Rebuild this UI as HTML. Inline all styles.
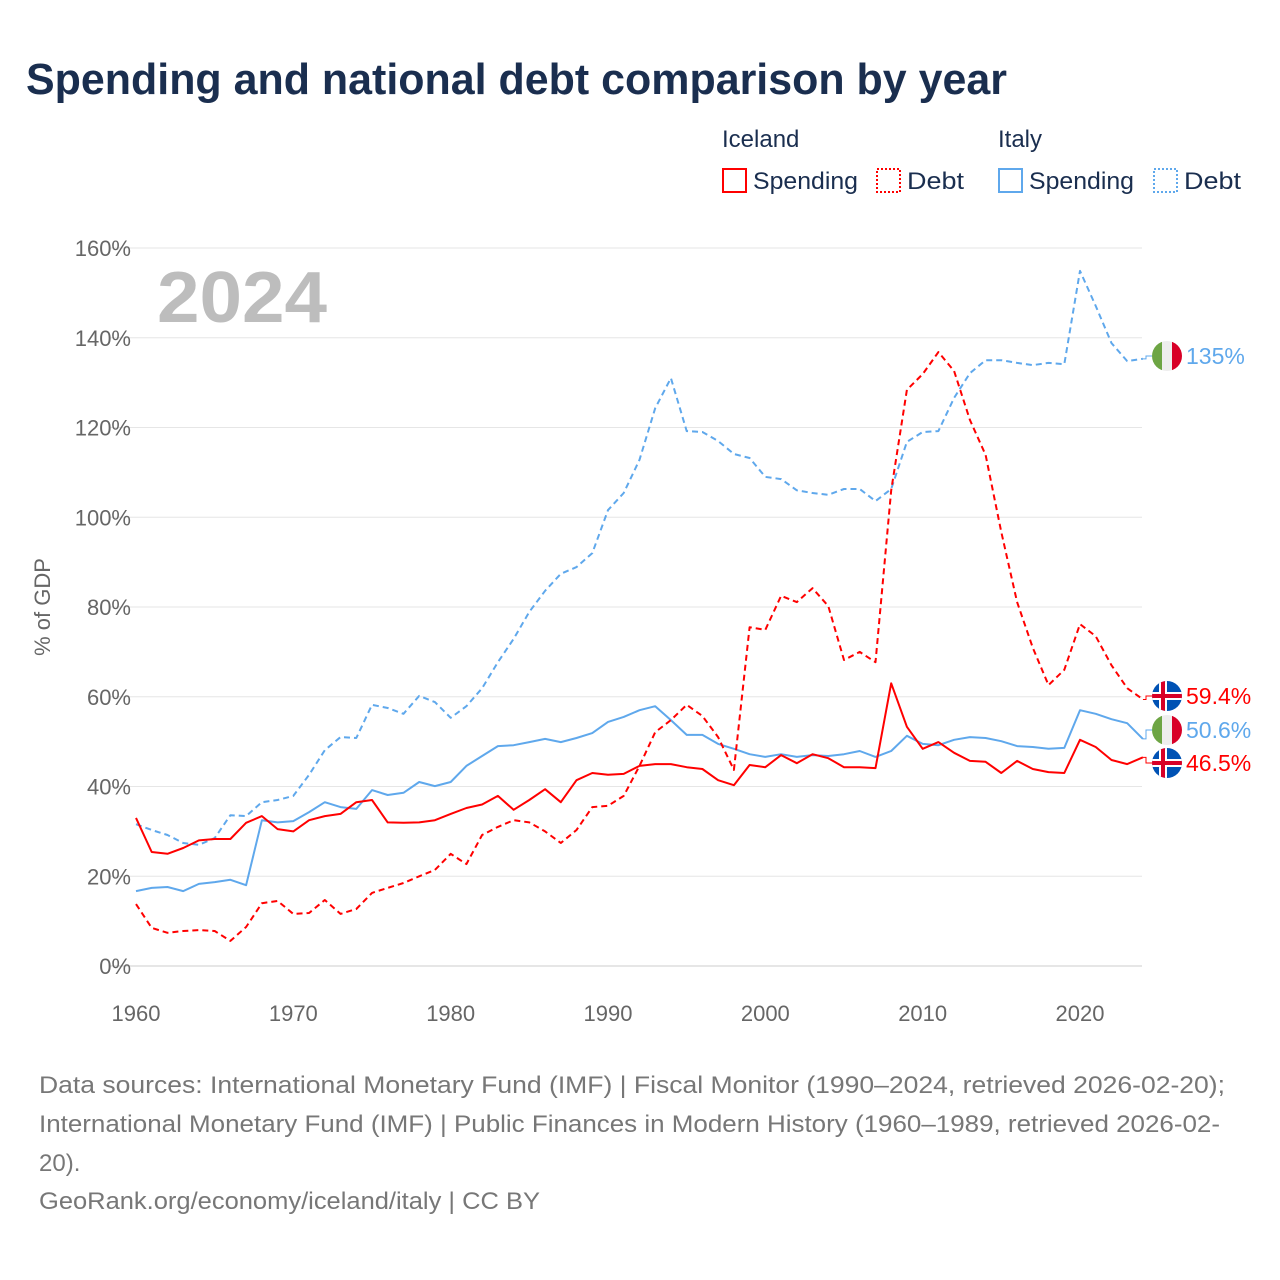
<!DOCTYPE html>
<html><head><meta charset="utf-8"><style>
body{margin:0;background:#fff;font-family:"Liberation Sans",sans-serif;}
#wrap{position:relative;width:1280px;height:1280px;overflow:hidden;}
</style></head><body>
<div id="wrap">
<svg id="chart" width="1280" height="1280" xmlns="http://www.w3.org/2000/svg">
<text x="26" y="94" font-size="44" font-weight="bold" fill="#1a2e4f" textLength="981" lengthAdjust="spacingAndGlyphs">Spending and national debt comparison by year</text>
<g font-size="24" fill="#1a2e4f">
<text x="722" y="147">Iceland</text>
<text x="998" y="147">Italy</text>
<g><rect x="723" y="169" width="23" height="23" fill="none" stroke="#ff0000" stroke-width="2"/><text x="753" y="189" textLength="105" lengthAdjust="spacingAndGlyphs">Spending</text></g>
<g><rect x="877" y="169" width="23" height="23" fill="none" stroke="#ff0000" stroke-width="2" stroke-dasharray="2,2"/><text x="907" y="189" textLength="57" lengthAdjust="spacingAndGlyphs">Debt</text></g>
<g><rect x="999" y="169" width="23" height="23" fill="none" stroke="#5fa8ec" stroke-width="2"/><text x="1029" y="189" textLength="105" lengthAdjust="spacingAndGlyphs">Spending</text></g>
<g><rect x="1154" y="169" width="23" height="23" fill="none" stroke="#5fa8ec" stroke-width="2" stroke-dasharray="2,2"/><text x="1184" y="189" textLength="57" lengthAdjust="spacingAndGlyphs">Debt</text></g>
</g>
<g id="grid"></g>
<g id="yticks"></g>
<g id="xticks"></g>
<text x="157" y="322" font-size="72" font-weight="bold" fill="#bdbdbd" textLength="170" lengthAdjust="spacingAndGlyphs">2024</text>
<text transform="translate(50,607) rotate(-90)" font-size="22" fill="#666" text-anchor="middle">% of GDP</text>
<g id="series"></g>
<g id="ends"></g>
<g font-size="24" fill="#777">
<text x="39" y="1093" textLength="1186" lengthAdjust="spacingAndGlyphs">Data sources: International Monetary Fund (IMF) | Fiscal Monitor (1990–2024, retrieved 2026-02-20);</text>
<text x="39" y="1132" textLength="1181" lengthAdjust="spacingAndGlyphs">International Monetary Fund (IMF) | Public Finances in Modern History (1960–1989, retrieved 2026-02-</text>
<text x="39" y="1171">20).</text>
<text x="39" y="1209" textLength="501" lengthAdjust="spacingAndGlyphs">GeoRank.org/economy/iceland/italy | CC BY</text>
</g>
</svg>
</div>
<script>
const startYear = 1960;
const yTicks = [0,20,40,60,80,100,120,140,160];
const xTicks = [1960,1970,1980,1990,2000,2010,2020];
const icelandSpending = [33,25.4,25,26.3,28,28.3,28.3,31.9,33.4,30.5,30,32.5,33.4,33.9,36.5,37,32,31.9,32,32.5,33.9,35.2,36,37.9,34.8,37,39.4,36.5,41.4,43,42.6,42.8,44.6,45,45,44.3,43.9,41.4,40.3,44.8,44.3,47,45.2,47.2,46.3,44.3,44.3,44.1,63,53.3,48.4,49.9,47.5,45.7,45.5,43,45.7,43.9,43.2,43,50.4,48.8,45.9,45,46.5];
const icelandDebt = [13.8,8.5,7.4,7.8,8,7.8,5.6,8.7,14,14.5,11.6,11.8,14.7,11.6,12.7,16.3,17.4,18.5,20,21.4,25,22.7,29.2,31,32.5,32,30,27.4,30.3,35.4,35.7,37.9,44.6,52.1,54.8,58.2,55.7,51,43.7,75.5,74.9,82.5,81.1,84.2,80.2,68.2,70,67.7,106,128.4,131.9,136.8,132.6,121.7,113.9,96.7,81.1,70.9,62.6,66,76.2,73.5,67,61.9,59.4];
const italySpending = [16.7,17.4,17.6,16.7,18.3,18.7,19.2,18,32.5,32,32.3,34.3,36.5,35.4,35,39.2,38.1,38.6,41,40.1,41,44.6,46.8,49,49.2,49.9,50.6,49.9,50.8,51.9,54.4,55.5,57,57.9,54.8,51.5,51.5,49.5,48.4,47.2,46.6,47.2,46.6,47,46.8,47.2,47.9,46.6,47.9,51.3,49.5,49.2,50.4,51,50.8,50.1,49,48.8,48.4,48.6,57,56.2,55,54.1,50.6];
const italyDebt = [31.6,30.3,29.2,27.4,27,28.5,33.6,33.4,36.5,37,37.9,42.6,48.1,51,50.8,58.2,57.5,56.2,60.2,58.8,55.3,57.9,61.9,67.7,72.9,78.9,83.6,87.4,88.9,92,101.6,105.4,112.8,124.3,131,119.2,119,117,114.1,113.2,109,108.5,106,105.4,105,106.3,106.3,103.6,106.3,116.8,119,119.2,126.6,132.1,135,135,134.4,133.9,134.4,134.1,154.9,147.1,138.8,134.8,135.3];
const endLabels = ["135%","59.4%","50.6%","46.5%"];

const NS="http://www.w3.org/2000/svg";
const X = y => 136 + (y-1960)*(1080-136)/60;
const Y = v => 966 - v*(966-248)/160;
function mk(tag, attrs, parent){const e=document.createElementNS(NS,tag);for(const k in attrs)e.setAttribute(k,attrs[k]);parent.appendChild(e);return e;}
const grid=document.getElementById('grid'), yt=document.getElementById('yticks'), xt=document.getElementById('xticks');
yTicks.forEach(t=>{
  const l=mk('line',{x1:110,x2:1142,y1:Y(t),y2:Y(t),stroke:t===0?'#ccc':'#e6e6e6','stroke-width':1},grid);
  
  
  const tx=mk('text',{x:131,y:Y(t)+8,'font-size':22,fill:'#666','text-anchor':'end'},yt);
  tx.textContent=t+'%';
  
  
});
xTicks.forEach(t=>{
  const tx=mk('text',{x:X(t),y:1021,'font-size':22,fill:'#666','text-anchor':'middle'},xt);
  tx.textContent=t;
  
  
});
const ser=document.getElementById('series');
function line(arr,color,dash,name){
  const d=arr.map((v,i)=>(i?'L':'M')+X(startYear+i).toFixed(1)+','+Y(v).toFixed(1)).join('');
  const p=mk('path',{d:d,fill:'none',stroke:color,'stroke-width':2,'stroke-linejoin':'round'},ser);
  if(dash)p.setAttribute('stroke-dasharray',dash);
  
  
}
line(italyDebt,'#5fa8ec','6,4','italy-debt-line');
line(italySpending,'#5fa8ec',null,'italy-spending-line');
line(icelandDebt,'#ff0000','6,4','iceland-debt-line');
line(icelandSpending,'#ff0000',null,'iceland-spending-line');

const ends=document.getElementById('ends');
const lastIdx=icelandDebt.length-1;
const endVals=[italyDebt[lastIdx],icelandDebt[lastIdx],italySpending[lastIdx],icelandSpending[lastIdx]];
const endCountries=['italy','iceland','italy','iceland'];
const endColors=['#5fa8ec','#ff0000','#5fa8ec','#ff0000'];
const labelY=[356,696,730,763];
function flag(cx,cy,c){
  const g=mk('g',{},ends);
  
  
  const id='clip'+Math.round(cy);
  const cp=mk('clipPath',{id:id},g); mk('circle',{cx:cx,cy:cy,r:15},cp);
  const gg=mk('g',{'clip-path':'url(#'+id+')'},g);
  if(c==='italy'){
    mk('rect',{x:cx-15,y:cy-15,width:10,height:30,fill:'#6da544'},gg);
    mk('rect',{x:cx-5,y:cy-15,width:10,height:30,fill:'#eeeeee'},gg);
    mk('rect',{x:cx+5,y:cy-15,width:10,height:30,fill:'#d80027'},gg);
  } else {
    mk('rect',{x:cx-15,y:cy-15,width:30,height:30,fill:'#0052b4'},gg);
    mk('rect',{x:cx-15,y:cy-4,width:30,height:8,fill:'#fff'},gg);
    mk('rect',{x:cx-8,y:cy-15,width:8,height:30,fill:'#fff'},gg);
    mk('rect',{x:cx-15,y:cy-2,width:30,height:4,fill:'#d80027'},gg);
    mk('rect',{x:cx-6,y:cy-15,width:4,height:30,fill:'#d80027'},gg);
  }
}
endVals.forEach((v,i)=>{
  const ly=labelY[i];
  const c=mk('path',{d:'M'+X(2024)+','+Y(v)+'H1146V'+ly+'H1152',fill:'none',stroke:endColors[i],'stroke-width':1},ends);
  
  
  flag(1167,ly,endCountries[i]);
  const t=mk('text',{x:1186,y:ly+8,'font-size':23,fill:endColors[i]},ends);
  t.textContent=endLabels[i];
  
  
});
</script>
</body></html>
